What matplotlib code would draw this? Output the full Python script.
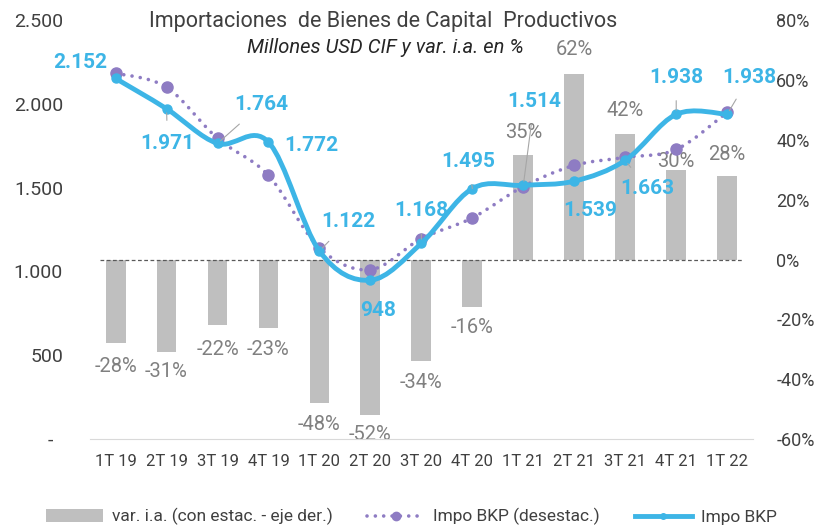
import numpy as np
import matplotlib
matplotlib.use('Agg')
import matplotlib.pyplot as plt
from matplotlib.path import Path
from matplotlib.patches import PathPatch, Patch
from matplotlib.lines import Line2D
from matplotlib.ticker import FuncFormatter

# Data
quarters = ['1T 19', '2T 19', '3T 19', '4T 19', '1T 20', '2T 20', '3T 20',
            '4T 20', '1T 21', '2T 21', '3T 21', '4T 21', '1T 22']
var_ia = [-28, -31, -22, -23, -48, -52, -34, -16, 35, 62, 42, 30, 28]
impo_bkp = [2152, 1971, 1764, 1772, 1122, 948, 1168, 1495, 1514, 1539, 1663, 1938, 1938]
impo_desestac = [2183, 2099, 1794, 1573, 1140, 1011, 1196, 1320, 1507, 1633, 1681, 1728, 1950]

# label offsets in pixels (layout only)
blue_offsets = [(-35, 16), (1, -35), (44, 39), (43, -3), (29, 30), (8, -30), (0, 33),
                (-4, 27), (11, 84), (16, -29), (22, -28), (0, 37), (22, 37)]
blue_leader = [False, True, True, False, True, False, True, True, True, False, True, True, True]
bar_offsets = [-23, -19, -24, -21, -21, -19, -21, -20, 22, 24, 23, 8, 21]

BLUE = '#3db5e6'
PURPLE = '#8e7cc3'
GRAY_BAR = '#bfbfbf'
TXT = '#404040'

plt.rcParams['font.family'] = ['Roboto', 'DejaVu Sans']


def smooth_path(xs, ys):
    # Catmull-Rom style bezier, like the spreadsheet "smoothed line"
    pts = np.column_stack([xs, ys]).astype(float)
    n = len(pts)
    verts = [pts[0]]
    codes = [Path.MOVETO]
    for i in range(n - 1):
        p0 = pts[i - 1] if i > 0 else pts[i]
        p1 = pts[i]
        p2 = pts[i + 1]
        p3 = pts[i + 2] if i + 2 < n else p2
        verts += [p1 + (p2 - p0) / 6, p2 - (p3 - p1) / 6, p2]
        codes += [Path.CURVE4] * 3
    return Path(verts, codes)


fig = plt.figure(figsize=(8.19, 5.29), dpi=100)
ax = fig.add_axes([0.110, 0.170, 0.809, 0.792])
ax2 = ax.twinx()
ax.set_zorder(ax2.get_zorder() + 1)
ax.patch.set_visible(False)

x = np.arange(len(quarters))

# bars on the right axis
ax2.bar(x, var_ia, width=0.39, color=GRAY_BAR, zorder=1)
ax2.axhline(0, xmin=0.015, xmax=0.985, color='#595959', lw=0.9, ls=(0, (3, 2)), zorder=2)
for xi, v, dy in zip(x, var_ia, bar_offsets):
    ax2.annotate(f'{v}%', xy=(xi, v), xytext=(0, dy), textcoords='offset pixels',
                 ha='center', va='center', fontsize=14.5, color='#808080')
ax2.set_ylim(-60, 80)
ax2.yaxis.set_major_formatter(FuncFormatter(lambda v, p: f'{int(round(v))}%'))
ax2.set_yticks(np.arange(-60, 81, 20))
ax2.tick_params(axis='y', length=0, pad=17, labelsize=13, labelcolor=TXT)

# lines on the left axis
ax.add_patch(PathPatch(smooth_path(x, impo_desestac), fill=False, edgecolor=PURPLE,
                       lw=2.6, ls=(0, (0.01, 2.3)), capstyle='round', zorder=3))
ax.plot(x, impo_desestac, 'o', color=PURPLE, ms=8, zorder=4)
ax.add_patch(PathPatch(smooth_path(x, impo_bkp), fill=False, edgecolor=BLUE,
                       lw=3.5, capstyle='round', joinstyle='round', zorder=5))
ax.plot(x, impo_bkp, 'o', color=BLUE, ms=6.5, zorder=6)

for xi, v, (dx, dy), lead in zip(x, impo_bkp, blue_offsets, blue_leader):
    label = f'{v:,}'.replace(',', '.')
    props = dict(arrowstyle='-', color='#a6a6a6', lw=0.8, shrinkA=8, shrinkB=3) if lead else None
    ax.annotate(label, xy=(xi, v), xytext=(dx, dy), textcoords='offset pixels',
                ha='center', va='center', fontsize=15, fontweight='bold', color=BLUE,
                arrowprops=props, zorder=7)

ax.set_xlim(-0.5, len(quarters) - 0.5)
ax.set_ylim(0, 2500)
ax.set_yticks(np.arange(0, 2501, 500))
ax.yaxis.set_major_formatter(FuncFormatter(
    lambda v, p: '-  ' if v == 0 else f'{int(v):,}'.replace(',', '.')))
ax.tick_params(axis='y', length=0, pad=19.5, labelsize=14, labelcolor=TXT)
ax.set_xticks(x)
ax.set_xticklabels(quarters)
ax.tick_params(axis='x', length=0, pad=11, labelsize=12, labelcolor=TXT)

for a in (ax, ax2):
    for s in a.spines.values():
        s.set_visible(False)
ax.spines['bottom'].set_visible(True)
ax.spines['bottom'].set_color('#d9d9d9')

fig.text(0.468, 0.960, 'Importaciones  de Bienes de Capital  Productivos',
         ha='center', va='center', fontsize=15.5, color=TXT)
fig.text(0.470, 0.910, 'Millones USD CIF y var. i.a. en %',
         ha='center', va='center', fontsize=14.5, style='italic', color='#262626')

handles = [
    Patch(facecolor=GRAY_BAR, edgecolor='none'),
    Line2D([], [], color=PURPLE, lw=2.6, ls=(0, (0.01, 2.3)), dash_capstyle='round',
           marker='o', ms=6),
    Line2D([], [], color=BLUE, lw=3.5, marker='o', ms=4),
]
labels = ['var. i.a. (con estac. - eje der.)', 'Impo BKP (desestac.)', 'Impo BKP']
fig.legend(handles, labels, loc='center', bbox_to_anchor=(0.502, 0.023), ncol=3,
           frameon=False, fontsize=12.5, handlelength=3.3, handletextpad=0.5,
           columnspacing=2.0, numpoints=1, labelcolor=TXT)

fig.savefig('out.png', dpi=100)
